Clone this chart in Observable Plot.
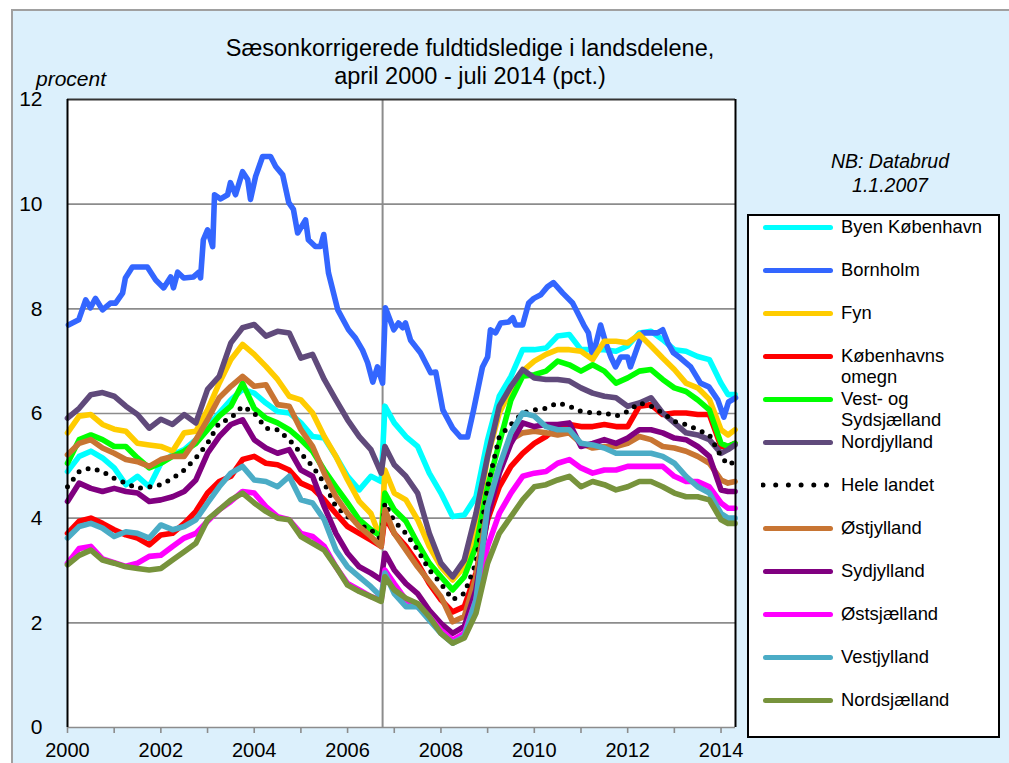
<!DOCTYPE html>
<html><head><meta charset="utf-8">
<script src="https://cdn.jsdelivr.net/npm/d3@7"></script>
<script src="https://cdn.jsdelivr.net/npm/@observablehq/plot@0.6"></script>
<style>
body{margin:0;background:#fff;font-family:"Liberation Sans",Arial,sans-serif;}
#wrap{position:relative;width:1009px;height:763px;overflow:hidden;}
#bg{position:absolute;left:11px;top:9px;width:1010px;height:770px;background:#dcf0fc;border-left:2px solid #a0a0a0;border-top:2px solid #a0a0a0;}
#chart{position:absolute;left:0;top:0;}
.title{position:absolute;left:120px;width:700px;text-align:center;font-size:23.5px;line-height:28px;top:34px;color:#000;}
.procent{position:absolute;left:36px;top:67px;font-size:21px;font-style:italic;line-height:24px;}
.nb{position:absolute;left:780px;width:220px;text-align:center;top:149px;font-size:19.5px;font-style:italic;line-height:24px;}
#legend{position:absolute;left:747px;top:214px;width:249px;height:520px;border:2px solid #000;background:#fff;}
.lg-line{position:absolute;height:5px;border-radius:3px;}
.lg-text{position:absolute;font-size:18.4px;line-height:21px;white-space:pre;}
</style></head>
<body>
<div id="wrap">
  <div id="bg"></div>
  <div id="chart"></div>
  <div class="title">Sæsonkorrigerede fuldtidsledige i landsdelene,<br>april 2000 - juli 2014 (pct.)</div>
  <div class="procent">procent</div>
  <div class="nb">NB: Databrud<br>1.1.2007</div>
  <div id="legend"></div>
</div>
<script>
// ---- data ----
const seriesNames = ["Byen København","Bornholm","Fyn","Københavns omegn","Vest- og Sydsjælland","Nordjylland","Hele landet","Østjylland","Sydjylland","Østsjælland","Vestjylland","Nordsjælland"];
const legendLabels = ["Byen København","Bornholm","Fyn","Københavns\nomegn","Vest- og\nSydsjælland","Nordjylland","Hele landet","Østjylland","Sydjylland","Østsjælland","Vestjylland","Nordsjælland"];
const seriesColors = ["#00ffff","#3366ff","#ffcc00","#ff0000","#00ff00","#604a7b","#000000","#c87533","#800080","#ff00ff","#4bacc6","#77933c"];

const years = [2000,2000.25,2000.5,2000.75,2001,2001.25,2001.5,2001.75,2002,2002.25,2002.5,2002.75,2003,2003.25,2003.5,2003.75,2004,2004.25,2004.5,2004.75,2005,2005.25,2005.5,2005.75,2006,2006.25,2006.5,2006.72,2006.8,2007,2007.25,2007.5,2007.75,2008,2008.25,2008.5,2008.75,2009,2009.25,2009.5,2009.75,2010,2010.25,2010.5,2010.75,2011,2011.25,2011.5,2011.75,2012,2012.25,2012.5,2012.75,2013,2013.25,2013.5,2013.75,2014,2014.15,2014.3];

const byenKobenhavn = [4.89,5.18,5.28,5.15,4.96,4.64,4.80,4.60,5.05,5.21,5.31,5.50,5.75,6.01,6.26, 6.46,6.39,6.20,6.04,6.01,5.82,5.56,5.53,5.18,4.80,4.54,4.80,4.70,6.14,5.82, 5.56,5.37,4.86,4.48,4.03,4.06,4.41,5.50,6.33,6.71,7.22,7.22,7.25,7.48, 7.51,7.22,7.22,7.22,7.19,7.29,7.54,7.57,7.41,7.22,7.19,7.09,7.03,6.58,6.36,6.36];
const fyn = [5.63,5.95,5.98,5.79,5.70,5.66,5.43,5.40,5.37,5.28,5.63,5.66,6.07,6.58,7.03, 7.32,7.13,6.90,6.65,6.33,6.26,6.01,5.56,5.18,4.73,4.32,4.09,3.58,4.92,4.48, 4.35,3.97,3.46,3.07,2.82,3.07,3.78,5.18,6.01,6.46,6.81,7.00,7.13,7.22, 7.22,7.19,7.03,7.38,7.38,7.35,7.51,7.29,7.06,6.84,6.58,6.49,6.27,5.69,5.59,5.69];
const kobenhavnsOmegn = [3.71,3.94,4.00,3.90,3.78,3.68,3.62,3.49,3.68,3.71,3.90,4.13,4.48,4.70,4.80, 5.12,5.18,5.05,5.02,4.92,4.67,4.57,4.35,4.09,3.84,3.71,3.58,3.46,4.03,3.71, 3.46,3.14,2.75,2.44,2.21,2.31,2.95,3.97,4.60,4.99,5.24,5.43,5.56,5.75, 5.79,5.75,5.75,5.79,5.75,5.75,6.14,6.17,5.98,6.01,6.01,5.98,5.98,5.37,5.37,5.43];
const vestOgSydsjaelland = [5.05,5.50,5.59,5.50,5.37,5.37,5.15,4.96,5.05,5.18,5.28,5.43,5.69,5.95,6.14, 6.58,6.10,5.91,5.82,5.69,5.50,5.28,4.92,4.60,4.29,3.97,3.78,3.65,4.48,4.16, 3.94,3.52,3.14,2.88,2.63,2.88,3.46,4.60,5.43,6.26,6.71,6.74,6.81,7.00, 6.93,6.81,6.93,6.81,6.58,6.68,6.81,6.84,6.65,6.49,6.42,6.26,6.07,5.43,5.37,5.43];
const nordjylland = [5.91,6.10,6.36,6.40,6.33,6.14,5.98,5.72,5.89,5.79,5.98,5.82,6.46,6.71,7.35, 7.64,7.70,7.48,7.57,7.54,7.06,7.13,6.65,6.26,5.88,5.56,5.31,4.86,5.37,5.02, 4.80,4.48,3.71,3.14,2.88,3.20,4.09,5.18,6.14,6.52,6.84,6.68,6.65,6.65, 6.62,6.49,6.39,6.33,6.30,6.14,6.20,6.30,6.01,5.82,5.63,5.59,5.50,5.24,5.31,5.40];
const heleLandet = [4.60,4.89,4.96,4.89,4.76,4.67,4.57,4.60,4.64,4.76,4.92,5.15,5.43,5.82,5.91, 6.14,6.01,5.72,5.69,5.50,5.24,4.99,4.67,4.22,4.03,3.87,3.78,3.58,4.29,3.94, 3.71,3.39,3.01,2.75,2.44,2.56,3.14,4.60,5.56,5.79,6.01,6.07,6.10,6.20, 6.14,6.04,6.01,6.01,5.95,6.04,6.20,6.14,6.01,5.85,5.79,5.69,5.59,5.18,5.02,5.08];
const ostjylland = [5.21,5.43,5.50,5.34,5.24,5.12,5.08,4.99,5.12,5.18,5.18,5.50,5.88,6.30,6.52, 6.71,6.52,6.55,6.17,6.14,5.69,5.37,4.86,4.41,4.09,3.84,3.65,3.46,4.16,3.71, 3.39,3.07,2.79,2.50,2.02,2.12,2.88,4.22,4.99,5.50,5.63,5.66,5.63,5.59, 5.63,5.43,5.34,5.37,5.37,5.43,5.56,5.50,5.37,5.34,5.28,5.18,5.05,4.73,4.67,4.70];
const sydjylland = [4.32,4.67,4.57,4.51,4.57,4.51,4.48,4.32,4.35,4.41,4.51,4.73,5.24,5.56,5.79, 5.88,5.50,5.34,5.24,5.31,4.92,4.80,4.22,3.71,3.33,3.07,2.95,2.82,3.33,3.01, 2.75,2.56,2.24,1.99,1.80,1.93,2.63,4.03,4.86,5.43,5.82,5.75,5.79,5.79, 5.82,5.37,5.43,5.50,5.43,5.53,5.69,5.69,5.63,5.53,5.50,5.37,5.18,4.54,4.51,4.51];
const ostsjaelland = [3.14,3.42,3.46,3.22,3.15,3.08,3.14,3.27,3.29,3.46,3.62,3.71,3.94,4.16,4.32, 4.51,4.48,4.22,4.03,3.97,3.71,3.65,3.46,3.07,2.75,2.63,2.50,2.44,3.01,2.75, 2.44,2.31,2.12,1.86,1.67,1.80,2.44,3.46,4.09,4.48,4.80,4.86,4.89,5.05, 5.12,4.96,4.86,4.92,4.92,4.99,4.99,4.99,4.99,4.80,4.70,4.70,4.60,4.29,4.19,4.19];
const vestjylland = [3.62,3.84,3.90,3.81,3.65,3.74,3.71,3.62,3.87,3.78,3.84,3.97,4.29,4.60,4.86, 4.99,4.73,4.70,4.60,4.80,4.35,4.29,3.97,3.39,3.07,2.88,2.69,2.50,2.95,2.56, 2.31,2.31,2.05,1.80,1.61,1.74,2.44,4.22,4.99,5.63,6.01,5.95,5.75,5.69, 5.69,5.43,5.40,5.34,5.24,5.24,5.24,5.24,5.18,5.05,4.80,4.60,4.48,4.09,4.00,4.00];
const nordsjaelland = [3.11,3.29,3.39,3.20,3.14,3.07,3.04,3.01,3.04,3.20,3.36,3.52,3.97,4.16,4.35, 4.48,4.29,4.13,4.00,3.97,3.65,3.52,3.39,3.07,2.72,2.60,2.50,2.41,2.88,2.63, 2.47,2.37,2.12,1.80,1.61,1.71,2.18,3.14,3.71,4.03,4.35,4.60,4.64,4.73, 4.80,4.60,4.70,4.64,4.54,4.60,4.70,4.70,4.60,4.48,4.41,4.41,4.35,3.97,3.90,3.90];

const bornholmYears = [2000.02,2000.24,2000.39,2000.49,2000.60,2000.75,2000.92,2001.03,2001.18,2001.24,2001.39,2001.71,2001.89,2002.06,2002.21,2002.27,2002.36,2002.49,2002.70,2002.81,2002.85,2002.91,2003.0,2003.11,2003.15,2003.28,2003.43,2003.49,2003.60,2003.75,2003.86,2003.92,2004.03,2004.18,2004.35,2004.46,2004.61,2004.74,2004.84,2004.93,2005.10,2005.16,2005.31,2005.42,2005.49,2005.59,2005.79,2006.02,2006.17,2006.32,2006.43,2006.54,2006.64,2006.75,2006.81,2006.99,2007.09,2007.18,2007.24,2007.35,2007.56,2007.78,2007.89,2008.04,2008.25,2008.42,2008.57,2008.70,2008.89,2009.0,2009.06,2009.17,2009.28,2009.45,2009.54,2009.60,2009.75,2009.88,2009.99,2010.14,2010.28,2010.41,2010.61,2010.82,2010.93,2011.06,2011.16,2011.25,2011.42,2011.53,2011.64,2011.74,2011.85,2012.0,2012.06,2012.21,2012.32,2012.43,2012.64,2012.75,2012.86,2012.98,2013.13,2013.35,2013.56,2013.74,2013.93,2014.06,2014.16,2014.31];
const bornholm = [7.69,7.79,8.17,8.02,8.2,7.98,8.11,8.11,8.3,8.59,8.8,8.8,8.55,8.4,8.61,8.4,8.7,8.59,8.61,8.7,8.59,9.32,9.51,9.19,10.18,10.1,10.18,10.41,10.18,10.62,10.47,10.09,10.53,10.91,10.91,10.72,10.56,10.03,9.9,9.45,9.7,9.32,9.19,9.19,9.42,8.69,7.98,7.6,7.44,7.21,6.97,6.6,6.89,6.58,8.02,7.6,7.73,7.64,7.73,7.4,7.16,6.78,6.79,6.07,5.72,5.55,5.55,6.07,6.89,7.08,7.6,7.54,7.73,7.75,7.83,7.69,7.69,8.11,8.2,8.27,8.42,8.5,8.3,8.11,7.92,7.69,7.54,7.08,7.69,7.35,7.08,6.89,7.08,7.08,6.89,7.27,7.54,7.54,7.54,7.6,7.35,7.16,7.06,6.89,6.58,6.51,6.26,5.93,6.22,6.3];

const yTicks = [0,2,4,6,8,10,12];
const xTicks = [2000,2001,2002,2003,2004,2005,2006,2007,2008,2009,2010,2011,2012,2013,2014];
const breakYear = 2006.75;
const xEnd = 2014.31;

// ---- build tables ----
const seriesValues = [byenKobenhavn, bornholm, fyn, kobenhavnsOmegn, vestOgSydsjaelland, nordjylland, heleLandet, ostjylland, sydjylland, ostsjaelland, vestjylland, nordsjaelland];
const tables = seriesValues.map((vals, i) => {
  const xs = seriesNames[i] === "Bornholm" ? bornholmYears : years;
  return vals.map((v, j) => ({series: seriesNames[i], year: xs[j], value: v}));
});

const lineMarks = tables.map((t, i) => {
  if (seriesNames[i] === "Hele landet") {
    return Plot.line(t, {x: "year", y: "value", stroke: seriesColors[i], strokeWidth: 5, strokeDasharray: "0 9.5", strokeLinecap: "round", strokeLinejoin: "round"});
  }
  return Plot.line(t, {x: "year", y: "value", stroke: seriesColors[i], strokeWidth: 5.6, strokeLinecap: "round", strokeLinejoin: "round"});
});

const chart = Plot.plot({
  width: 1009,
  height: 763,
  marginLeft: 67,
  marginRight: 274,
  marginTop: 99,
  marginBottom: 36,
  style: {background: "transparent", fontFamily: '"Liberation Sans", Arial, sans-serif', color: "#000", overflow: "visible"},
  x: {domain: [2000, xEnd], type: "linear"},
  y: {domain: [0, 12]},
  marks: [
    Plot.frame({fill: "white", stroke: "none"}),
    Plot.ruleY(yTicks.filter(d => d > 0 && d < 12), {stroke: "#8c8c8c", strokeWidth: 1.6}),
    Plot.ruleY([0], {stroke: "#8c8c8c", strokeWidth: 1.6}),
    Plot.ruleX([breakYear], {stroke: "#8c8c8c", strokeWidth: 2}),
    ...lineMarks,
    Plot.ruleY([12], {stroke: "#333", strokeWidth: 2}),
    Plot.ruleX([2000], {stroke: "#000", strokeWidth: 2}),
    Plot.ruleX([xEnd], {stroke: "#000", strokeWidth: 2}),
    Plot.axisY({ticks: yTicks, tickSize: 0, tickPadding: 25, fontSize: 21, tickFormat: d => String(d), label: null}),
    Plot.axisX({ticks: xTicks, tickSize: 6, stroke: "#8c8c8c", strokeWidth: 1.6, text: null, label: null}),
    Plot.axisX({ticks: xTicks, tickSize: 0, tickPadding: 15, fontSize: 20, tickFormat: d => d % 2 === 0 ? String(d) : "", label: null})
  ]
});
document.getElementById("chart").appendChild(chart);

// ---- legend ----
const legend = document.getElementById("legend");
const lgLeft = 763 - 749, lgTextLeft = 841 - 749, lgFirst = 227 - 216, lgStep = 43.0;
legendLabels.forEach((lab, i) => {
  const cy = lgFirst + i * lgStep;
  if (seriesNames[i] === "Hele landet") {
    const s = document.createElementNS("http://www.w3.org/2000/svg", "svg");
    s.setAttribute("width", 80); s.setAttribute("height", 10);
    s.style.position = "absolute"; s.style.left = (lgLeft - 2) + "px"; s.style.top = (cy - 5) + "px";
    s.innerHTML = `<line x1="2" y1="5" x2="66" y2="5" stroke="#000" stroke-width="5" stroke-linecap="round" stroke-dasharray="0 12.7"/>`;
    legend.appendChild(s);
  } else {
    const l = document.createElement("div");
    l.className = "lg-line";
    l.style.left = lgLeft + "px"; l.style.width = "70px"; l.style.top = (cy - 2.5) + "px";
    l.style.background = seriesColors[i];
    legend.appendChild(l);
  }
  const t = document.createElement("div");
  t.className = "lg-text";
  t.style.left = lgTextLeft + "px"; t.style.top = (cy - 11) + "px";
  t.textContent = lab;
  legend.appendChild(t);
});
</script>
</body></html>
